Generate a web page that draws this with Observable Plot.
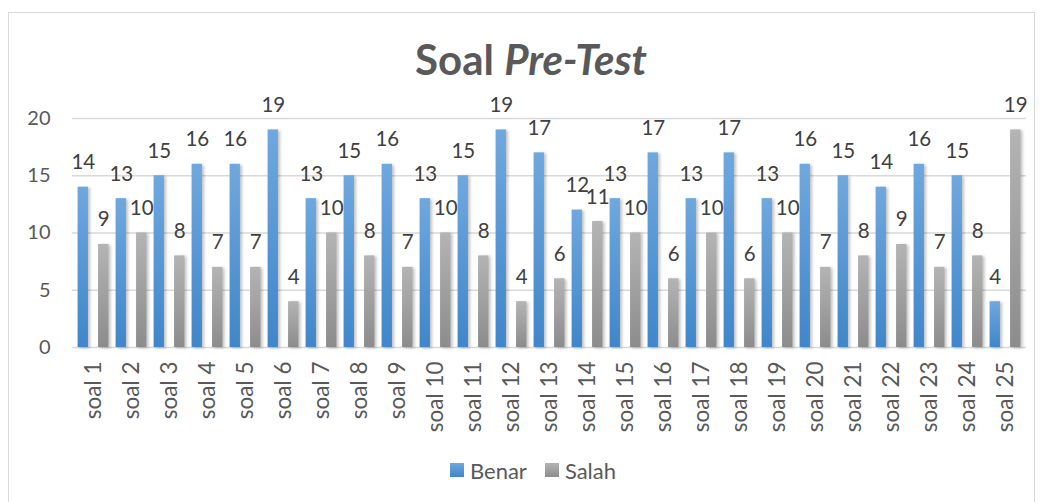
<!DOCTYPE html>
<html>
<head>
<meta charset="utf-8">
<script src="https://cdn.jsdelivr.net/npm/d3@7"></script>
<script src="https://cdn.jsdelivr.net/npm/@observablehq/plot@0.6"></script>
<style>
  html, body { margin: 0; padding: 0; background: #fff; }
  body { width: 1042px; height: 502px; position: relative; overflow: hidden; font-family: Lato, "Open Sans", sans-serif; }
  #frame { position: absolute; left: 8px; top: 12px; width: 1027px; height: 492px; border: 1px solid #d9d9d9; box-sizing: border-box; }
  #title { position: absolute; left: 10px; width: 1042px; top: 34px; text-align: center; font-size: 42px; line-height: 1.2; font-weight: bold; color: #595959; }
  #chart { position: absolute; left: 0; top: 90px; }
  #legend { position: absolute; left: 12px; width: 1042px; top: 456px; height: 28px; display: flex; justify-content: center; align-items: center; font-size: 22px; color: #595959; }
  .item { display: flex; align-items: center; margin: 0 9px; }
  .sw { width: 14px; height: 14px; margin-right: 6px; }
</style>
</head>
<body>
<div id="frame"></div>
<div id="title">Soal <i>Pre-Test</i></div>
<div id="chart"></div>
<div id="legend"></div>
<script>
const soal = ["soal 1","soal 2","soal 3","soal 4","soal 5","soal 6","soal 7","soal 8","soal 9","soal 10","soal 11","soal 12","soal 13","soal 14","soal 15","soal 16","soal 17","soal 18","soal 19","soal 20","soal 21","soal 22","soal 23","soal 24","soal 25"];
const benar = [14,13,15,16,16,19,13,15,16,13,15,19,17,12,13,17,13,17,13,16,15,14,16,15,4];
const salah = [9,10,8,7,7,4,10,8,7,10,8,4,6,11,10,6,10,6,10,7,8,9,7,8,19];
const series = ["Benar","Salah"];
const yTicks = [0,5,10,15,20];

const dBenar = soal.map((s, i) => ({soal: s, nilai: benar[i]}));
const dSalah = soal.map((s, i) => ({soal: s, nilai: salah[i]}));

const svg = Plot.plot({
  width: 1042,
  height: 360,
  marginTop: 28,
  marginBottom: 103,
  marginLeft: 72,
  marginRight: 16,
  style: {fontFamily: "Lato, 'Open Sans', sans-serif", fontSize: "20px", color: "#595959", background: "transparent"},
  x: {domain: soal, padding: 0},
  y: {domain: [0, 20]},
  marks: [
    Plot.ruleY(yTicks, {stroke: "#d9d9d9", strokeWidth: 1.5, strokeOpacity: 1}),
    Plot.axisY({ticks: yTicks, label: null, tickSize: 0, tickPadding: 22, fontSize: 20}),
    Plot.axisX({label: null, tickRotate: -90, tickSize: 0, tickPadding: 14, fontSize: 22.5}),
    Plot.barY(dBenar, {x: "soal", y: "nilai", fill: "url(#gBenar)", insetLeft: 3.6, insetRight: 24.06, className: "bars"}),
    Plot.barY(dSalah, {x: "soal", y: "nilai", fill: "url(#gSalah)", insetLeft: 24.06, insetRight: 3.6, className: "bars"}),
    Plot.text(dBenar, {x: "soal", y: "nilai", text: "nilai", dx: -10.2, dy: -18, lineAnchor: "bottom", fill: "#404040", fontSize: 20.5}),
    Plot.text(dSalah, {x: "soal", y: "nilai", text: "nilai", dx: 10.2, dy: -18, lineAnchor: "bottom", fill: "#404040", fontSize: 20.5})
  ]
});

const defs = d3.select(svg).insert("defs", ":first-child");
const g1 = defs.append("linearGradient").attr("id", "gBenar").attr("x1", 0).attr("y1", 0).attr("x2", 0).attr("y2", 1);
g1.append("stop").attr("offset", "0%").attr("stop-color", "#6fa8de");
g1.append("stop").attr("offset", "100%").attr("stop-color", "#3f86ca");
const g2 = defs.append("linearGradient").attr("id", "gSalah").attr("x1", 0).attr("y1", 0).attr("x2", 0).attr("y2", 1);
g2.append("stop").attr("offset", "0%").attr("stop-color", "#b4b4b4");
g2.append("stop").attr("offset", "100%").attr("stop-color", "#8c8c8c");
d3.select(svg).selectAll("g.bars").style("filter", "drop-shadow(2px 1px 1.5px rgba(0,0,0,0.25))");

document.getElementById("chart").appendChild(svg);

const legend = document.getElementById("legend");
const swatchColors = ["linear-gradient(#6fa8de,#3f86ca)", "linear-gradient(#b4b4b4,#8c8c8c)"];
series.forEach((s, i) => {
  const it = document.createElement("div");
  it.className = "item";
  const sw = document.createElement("div");
  sw.className = "sw";
  sw.style.background = swatchColors[i];
  const lb = document.createElement("span");
  lb.textContent = s;
  it.appendChild(sw);
  it.appendChild(lb);
  legend.appendChild(it);
});
</script>
</body>
</html>
